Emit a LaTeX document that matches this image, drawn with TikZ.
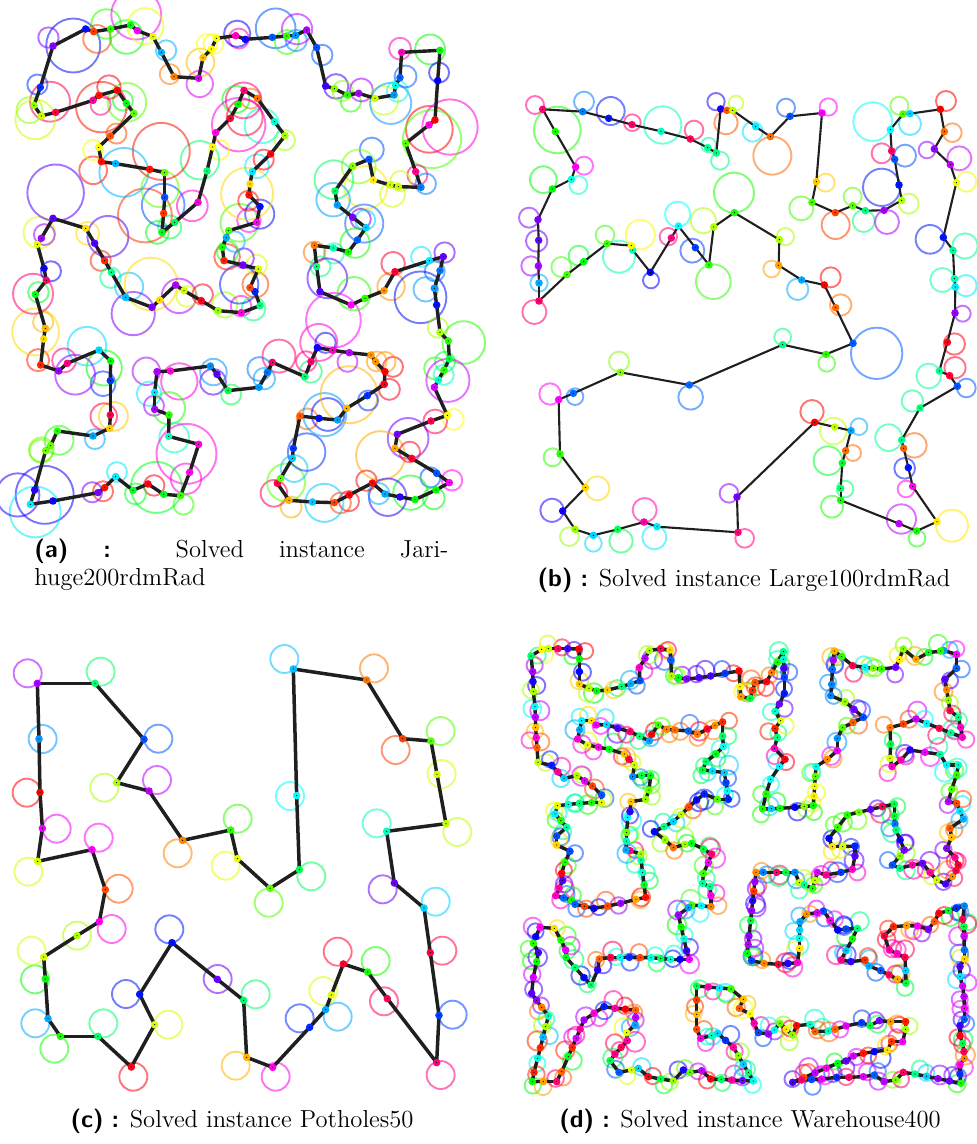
\PassOptionsToPackage{rgb}{xcolor}
\documentclass[tikz,border=0pt]{standalone}
\usepackage{tikz}
\usetikzlibrary{calc}
\selectcolormodel{rgb}

\tikzset{
  tour/.style={draw=black!88, line width=1.7pt, line cap=round, line join=round},
  ring/.style={line width=0.95pt, draw opacity=0.55},
  dot/.style={circle, inner sep=0pt, minimum size=3.8pt,
    path picture={\fill[black] (path picture bounding box.center) circle[radius=0.3pt];}},
  capt/.style={font=\fontsize{12.3}{14}\selectfont, inner sep=0pt}
}

\newcommand{\sublab}[1]{{\sffamily\bfseries #1}}

% one target: random hue, ring of random size next to it
% pass 1 = rings, pass 3 = dots
\newcommand{\randdot}[2]{%
  \pgfmathsetmacro\rhue{360*rnd}%
  \definecolor{dc}{Hsb}{\rhue,1,1}%
  \pgfmathsetmacro\rrad{\ringmin+\ringvar*rnd^3}%
  \pgfmathsetmacro\rang{360*rnd}%
  \pgfmathsetmacro\roff{\rrad*(0.35+0.6*rnd)}%
  \ifnum\tpass=1 \draw[ring,draw=dc] #2 ++(\rang:\roff) circle[radius=\rrad];\fi
  \ifnum\tpass=3 \node[dot,fill=dc] (#1) at #2 {};\fi
}

% closed tour, targets put along each leg every #2 units, seed #3
\newcommand{\tourloop}[4]{%
  \foreach \tpass in {1,2,3}{%
    \pgfmathsetseed{#3}%
    \foreach \x/\y [count=\i, remember=\x as \px (initially 0), remember=\y as \py (initially 0)] in {#4}{%
      \coordinate (#1-\i) at (\x,\y);
      \ifnum\i>1
        \pgfmathtruncatemacro\j{\i-1}%
        \ifnum\tpass=2 \draw[tour] (#1-\j) -- (#1-\i);\fi
        \pgfmathtruncatemacro\n{max(1,round(veclen(\x-\px,\y-\py)/#2))}%
        \foreach \k in {1,...,\n}{\randdot{#1-\i-\k}{($(#1-\j)!\k/\n!(#1-\i)$)}}%
      \fi
    }}}

% closed tour with given targets: x/y/ring x/ring y/radius/hue
\newcommand{\fixedtour}[2]{%
  \foreach \x/\y/\cx/\cy/\rad/\h [count=\i] in {#2}{%
    \definecolor{dc}{Hsb}{\h,1,1}%
    \draw[ring,draw=dc] (\cx,\cy) circle[radius=\rad];
    \coordinate (#1-p\i) at (\x,\y);
    \xdef\tourlen{\i}%
  }%
  \foreach \i [remember=\i as \j (initially \tourlen)] in {1,...,\tourlen}{\draw[tour] (#1-p\j) -- (#1-p\i);}%
  \foreach \x/\y/\cx/\cy/\rad/\h [count=\i] in {#2}{%
    \definecolor{dc}{Hsb}{\h,1,1}%
    \node[dot,fill=dc] (#1-\i) at (#1-p\i) {};
  }%
}

\begin{document}
\begin{tikzpicture}[x=0.5pt, y=-0.5pt]
\useasboundingbox (0,0) rectangle (976,1144);

% (a) Jarihuge200rdmRad
\begin{scope}[shift={(8,10)}, scale=1/3]
  \def\ringmin{30}\def\ringvar{60}
  \tourloop{a}{10000}{11}{135/108, 233/57, 257/65, 308/57, 368/45, 388/62, 435/80, 460/127, 498/200, 572/205,
    585/143, 610/117, 625/85, 683/77, 712/88, 793/82, 836/78, 863/76, 896/60, 926/113, 953/228, 979/236,
    1018/255, 1052/250, 1101/265, 1158/255, 1163/227, 1176/203, 1181/127, 1296/121, 1289/212, 1281/330,
    1263/345, 1193/400, 1223/485, 1239/532, 1171/530, 1146/525, 1096/510, 1083/448, 1034/468, 981/543,
    988/585, 1034/622, 1074/653, 1048/690, 1021/726, 976/714, 919/706, 926/770, 936/845, 1029/885,
    1071/865, 1128/842, 1161/785, 1264/752, 1306/740, 1296/782, 1279/835, 1286/885, 1296/967, 1321/993,
    1324/1047, 1308/1080, 1291/1110, 1279/1132, 1318/1216, 1269/1233, 1168/1273, 1161/1315, 1211/1345,
    1286/1390, 1324/1418, 1284/1440, 1221/1469, 1176/1461, 1131/1452, 1093/1419, 1024/1455, 979/1478,
    913/1476, 843/1471, 808/1420, 818/1405, 853/1345, 856/1315, 876/1218, 933/1225, 989/1230, 1016/1195,
    1078/1157, 1129/1123, 1131/1085, 1103/1055, 1089/1035, 1024/1028, 974/1021, 928/1013, 909/1055,
    891/1100, 793/1057, 778/1087, 753/1132, 660/1142, 627/1093, 607/1068, 487/1083, 447/1085, 440/1147,
    440/1198, 483/1215, 482/1279, 572/1303, 545/1387, 518/1457, 467/1453, 420/1422, 375/1441, 323/1400,
    290/1433, 270/1448, 135/1473, 67/1483, 80/1440, 113/1322, 128/1307, 148/1263, 255/1278, 305/1255,
    307/1215, 307/1112, 308/1053, 273/1020, 178/1060, 152/1083, 98/1065, 107/987, 112/955, 82/853,
    115/811, 108/775, 88/703, 100/685, 135/625, 233/655, 260/700, 290/752, 310/787, 353/862, 432/892,
    455/870, 503/825, 528/842, 580/872, 630/902, 700/908, 756/887, 741/845, 726/833, 751/777, 705/765,
    648/752, 643/712, 655/683, 662/662, 746/637, 756/590, 723/555, 726/522, 733/485, 788/432, 831/377,
    799/335, 748/265, 708/241, 690/283, 667/325, 623/368, 614/411, 597/483, 570/577, 500/637, 462/667,
    467/610, 470/562, 470/488, 425/478, 323/461, 280/455, 272/412, 307/378, 378/310, 355/280, 328/241,
    273/256, 255/271, 143/307, 100/318, 78/286, 97/232, 135/108}
\end{scope}

% (b) Large100rdmRad
\begin{scope}[shift={(510,85)}, scale=1/3, tour/.append style={line width=1.05pt}]
  \fixedtour{b}{98/73/75/60/27/330, 218/80/222/50/30/210, 296/100/302/78/42/235, 366/119/367/113/25/335,
    453/139/458/120/56/165, 541/162/552/135/28/340, 593/188/596/180/22/155, 619/204/630/227/27/150,
    632/72/618/50/26/245, 651/76/648/113/35/20, 668/76/678/54/22/75, 737/125/728/140/30/185,
    781/155/787/212/57/25, 840/94/828/68/27/220, 936/84/955/66/26/300, 919/290/947/293/27/48,
    906/352/874/370/36/105, 976/383/977/420/42/15, 1028/362/1028/335/27/100, 1066/377/1061/408/33/150,
    1122/376/1131/411/36/280, 1175/346/1196/356/30/80, 1167/300/1115/307/56/235, 1154/223/1185/212/33/220,
    1145/198/1115/205/30/335, 1141/134/1088/110/58/180, 1179/87/1168/62/27/100, 1200/86/1200/117/33/190,
    1291/73/1308/48/30/0, 1303/140/1327/143/28/25, 1273/192/1251/195/25/275, 1321/239/1348/220/36/285,
    1339/293/1369/290/30/65, 1300/457/1260/463/43/235, 1329/496/1365/483/38/155, 1333/581/1297/585/36/160,
    1336/606/1368/602/32/185, 1335/684/1358/686/24/275, 1312/772/1333/777/32/355, 1288/858/1256/873/37/155,
    1319/872/1335/848/32/348, 1342/904/1369/909/28/220, 1230/969/1207/948/32/150, 1175/1065/1136/1058/40/155,
    1181/1090/1213/1081/37/22, 1195/1148/1184/1150/31/235, 1208/1204/1188/1212/25/305, 1281/1310/1326/1322/48/55,
    1220/1338/1221/1360/25/115, 1167/1316/1174/1302/44/285, 992/1246/966/1265/33/115, 992/1210/1005/1212/25/145,
    997/1134/954/1127/43/130, 1007/1097/1029/1104/24/25, 1023/1037/1047/1025/25/200, 974/1026/970/1038/40/75,
    914/1012/906/980/35/0, 681/1236/657/1225/28/270, 684/1342/704/1360/28/330, 441/1325/433/1357/36/185,
    402/1311/404/1275/36/320, 323/1333/333/1368/35/140, 250/1351/250/1375/25/190, 195/1333/178/1355/28/85,
    158/1278/126/1276/35/245, 226/1208/262/1210/36/50, 150/1107/128/1117/27/110, 146/944/120/927/32/300,
    190/925/195/935/25/215, 331/862/327/830/30/90, 538/900/542/937/37/215, 818/779/818/756/25/150,
    948/808/950/835/25/110, 1029/775/1100/805/77/218, 977/668/992/660/32/25, 943/600/962/577/30/0,
    875/585/863/613/32/200, 806/541/785/552/25/38, 808/464/826/455/26/80, 673/383/672/323/60/115,
    611/426/580/407/38/80, 597/540/610/590/52/110, 556/488/547/497/36/225, 505/423/503/388/38/180,
    484/459/475/455/26/330, 421/562/423/586/24/240, 368/495/327/515/48/165, 364/482/391/449/44/58,
    291/476/285/450/28/105, 221/530/206/512/30/125, 171/569/154/546/30/105, 87/648/73/681/36/335,
    87/594/87/594/26/200, 85/543/63/543/29/280, 86/466/80/468/32/265, 84/404/57/398/30/270,
    127/312/100/284/40/120, 184/283/205/300/27/170, 197/246/222/242/27/300, 136/140/142/135/70/115}
\end{scope}

% (c) Potholes50
\begin{scope}[shift={(0,640)}, scale=1/3, tour/.append style={line width=1.75pt}]
  \fixedtour{c}{112/130/83/100/42/280, 285/130/302/95/42/145, 432/298/475/296/42/220, 350/428/313/443/42/80,
    447/453/471/420/42/285, 548/601/533/640/42/30, 692/570/713/536/42/110, 712/656/677/677/42/65,
    810/745/806/788/42/100, 898/689/934/709/42/140, 890/467/870/468/42/180, 880/87/853/57/42/195,
    1100/120/1122/85/42/28, 1208/296/1187/330/42/15, 1293/303/1322/273/42/100, 1311/403/1325/402/42/70,
    1338/551/1372/576/42/75, 1160/574/1130/550/42/165, 1183/729/1148/748/42/265, 1272/804/1307/785/42/190,
    1291/938/1327/932/42/345, 1317/1126/1358/1124/42/225, 1310/1268/1322/1305/42/330, 1162/1076/1152/1084/42/340,
    1103/996/1127/963/42/115, 1030/972/1013/935/42/350, 994/1065/970/1053/42/68, 977/1109/1013/1130/42/200,
    929/1162/899/1135/42/230, 818/1282/827/1310/42/305, 740/1252/707/1277/42/42, 731/1081/767/1063/42/145,
    652/1018/653/1017/42/265, 516/908/508/868/42/235, 419/1063/378/1062/42/235, 464/1154/505/1154/42/70,
    394/1281/400/1310/42/355, 294/1189/310/1150/42/145, 181/1189/163/1226/42/115, 144/1136/106/1150/42/200,
    136/1017/105/1018/42/120, 131/951/95/932/42/70, 231/887/231/887/42/80, 298/845/335/867/42/305,
    316/749/356/746/42/18, 276/629/296/593/42/300, 113/664/85/695/42/70, 127/565/170/566/42/295,
    120/457/80/458/42/0, 117/297/128/297/42/205}
\end{scope}

% (d) Warehouse400
\begin{scope}[shift={(515,630)}, scale=1/3]
  \def\ringmin{24}\def\ringvar{6}
  \tourloop{d}{33}{22}{805/65, 770/128, 755/155, 720/157, 705/205, 678/200, 675/170, 672/123, 630/130, 587/138,
    552/143, 515/147, 490/143, 470/138, 467/90, 465/60, 437/56, 403/62, 390/85, 373/113, 375/152, 320/170,
    277/180, 245/183, 222/175, 193/162, 193/125, 193/87, 192/57, 158/56, 100/56, 80/58, 48/78, 53/125,
    55/185, 60/230, 62/293, 66/353, 69/397, 110/406, 147/445, 186/437, 232/468, 260/495, 260/518, 230/518,
    193/520, 127/527, 120/552, 155/592, 125/618, 125/645, 165/664, 150/697, 140/730, 143/752, 122/797,
    170/810, 180/823, 237/835, 278/828, 317/820, 363/808, 392/802, 378/690, 378/672, 345/662, 333/660,
    335/607, 338/562, 345/545, 348/515, 392/508, 402/480, 407/437, 380/437, 353/440, 358/405, 342/388,
    328/372, 283/358, 218/345, 188/327, 200/272, 230/272, 243/285, 275/284, 308/295, 345/305, 403/333,
    410/313, 430/285, 455/298, 480/300, 520/303, 547/313, 577/297, 623/276, 623/318, 625/350, 603/372,
    573/395, 563/420, 592/423, 628/428, 633/458, 640/508, 607/508, 568/492, 545/510, 475/575, 447/590,
    418/605, 450/630, 475/653, 510/643, 530/640, 565/657, 590/672, 580/698, 565/730, 563/760, 585/770,
    588/797, 588/830, 530/825, 520/833, 490/855, 515/962, 523/988, 467/988, 408/983, 343/982, 287/982,
    253/987, 248/1020, 228/1065, 207/1043, 153/982, 152/960, 138/930, 118/895, 75/892, 62/920, 55/940,
    70/968, 65/995, 55/1042, 50/1090, 80/1132, 100/1158, 68/1285, 57/1327, 52/1355, 85/1355, 125/1355,
    140/1325, 160/1280, 207/1170, 237/1150, 267/1130, 300/1135, 362/1140, 362/1162, 360/1185, 335/1208,
    337/1232, 300/1272, 285/1292, 312/1327, 350/1320, 370/1315, 400/1340, 437/1347, 475/1353, 505/1320,
    525/1327, 560/1322, 587/1347, 650/1350, 715/1353, 655/1252, 608/1210, 590/1217, 557/1225, 545/1198,
    545/1153, 545/1110, 545/1068, 648/1077, 685/1108, 673/1135, 705/1152, 730/1208, 760/1212, 778/1200,
    795/1180, 832/1215, 845/1187, 885/1183, 900/1205, 940/1203, 960/1198, 993/1188, 1040/1178, 1065/1187,
    1093/1172, 1127/1175, 1172/1175, 1172/1198, 1163/1235, 1130/1235, 1117/1260, 1078/1265, 1045/1270,
    1015/1278, 993/1293, 968/1300, 833/1357, 860/1350, 920/1347, 965/1342, 1002/1342, 1045/1340, 1078/1335,
    1107/1355, 1142/1350, 1165/1327, 1200/1332, 1338/1360, 1335/1332, 1335/1305, 1348/1285, 1347/1265,
    1343/1240, 1335/1217, 1335/1187, 1348/1168, 1348/1135, 1347/1100, 1343/1068, 1335/1040, 1335/1010,
    1348/987, 1348/960, 1347/918, 1347/890, 1343/868, 1348/828, 1300/842, 1272/850, 1258/875, 1240/898,
    1208/888, 1175/887, 1135/890, 1108/918, 1123/960, 1170/982, 1172/1022, 1173/1060, 1097/1022, 1062/1008,
    1050/990, 1008/995, 978/990, 993/962, 1012/927, 1027/895, 993/897, 968/900, 925/843, 907/848, 875/852,
    855/875, 853/925, 853/955, 848/998, 790/1003, 747/1000, 710/992, 697/970, 702/918, 707/872, 713/812,
    723/727, 745/727, 785/727, 840/727, 853/758, 868/765, 893/775, 907/727, 933/735, 978/727, 1012/718,
    1020/678, 1020/648, 983/650, 952/650, 942/625, 968/592, 997/555, 1102/530, 1138/522, 1138/558,
    1140/582, 1143/600, 1168/660, 1155/678, 1132/705, 1155/715, 1192/705, 1223/700, 1245/727, 1265/750,
    1292/762, 1312/740, 1323/722, 1330/705, 1320/683, 1295/655, 1310/622, 1305/595, 1345/567, 1325/520,
    1300/515, 1310/478, 1325/435, 1330/405, 1295/405, 1275/373, 1230/367, 1185/360, 1158/390, 1131/410,
    1125/385, 1127/342, 1125/293, 1165/282, 1203/267, 1235/280, 1273/295, 1342/322, 1337/292, 1330/262,
    1305/242, 1290/148, 1325/115, 1325/73, 1287/62, 1277/63, 1240/68, 1203/88, 1165/57, 1153/88, 1142/112,
    1100/117, 1050/112, 1013/107, 980/80, 958/63, 952/118, 950/163, 947/197, 990/215, 1017/238, 1045/262,
    983/293, 967/325, 967/362, 937/388, 903/410, 895/527, 840/532, 795/535, 743/537, 753/492, 767/448,
    793/410, 810/388, 778/355, 787/322, 780/296, 797/272, 780/244, 793/222, 808/190, 808/142, 805/88, 805/65}
\end{scope}

% captions
\node[capt, anchor=base west] (capa1) at (34,557) {\makebox[207pt][s]{\sublab{(a)} \sublab{:} Solved instance Jari-}};
\node[capt, anchor=base west] (capa2) at (34,585) {huge200rdmRad};
\node[capt, anchor=base] (capb) at (744,586) {\sublab{(b)} \sublab{:} Solved instance Large100rdmRad};
\node[capt, anchor=base] (capc) at (242,1127) {\sublab{(c)} \sublab{:} Solved instance Potholes50};
\node[capt, anchor=base] (capd) at (750,1127) {\sublab{(d)} \sublab{:} Solved instance Warehouse400};
\end{tikzpicture}
\end{document}
